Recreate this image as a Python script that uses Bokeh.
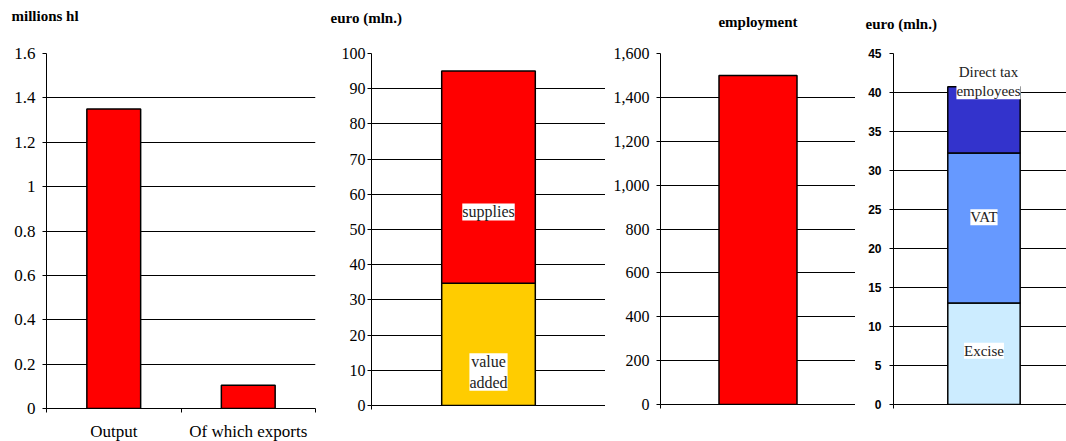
from bokeh.plotting import figure
from bokeh.models import Range1d, FixedTicker, NumeralTickFormatter, Label, Title
from bokeh.layouts import row
from bokeh.embed import file_html
from bokeh.resources import INLINE

# ---------------- data ----------------
prod_categories = ["Output", "Of which exports"]
prod_values = [1.35, 0.105]            # millions hl
prod_ticks = [0, 0.2, 0.4, 0.6, 0.8, 1.0, 1.2, 1.4, 1.6]

value_segments = ["value added", "supplies"]
value_values = [34.7, 60.3]            # euro (mln.)
value_ticks = [0, 10, 20, 30, 40, 50, 60, 70, 80, 90, 100]

employment_values = [1500]
employment_ticks = [0, 200, 400, 600, 800, 1000, 1200, 1400, 1600]

tax_segments = ["Excise", "VAT", "Direct tax\nemployees"]
tax_values = [13.0, 19.25, 8.5]        # euro (mln.)
tax_ticks = [0, 5, 10, 15, 20, 25, 30, 35, 40, 45]

SERIF = "Liberation Serif"


def make_fig(fw, fh, left, right, top, bottom, yr, xr, ticks, tick_font, tick_size,
             title_text, title_align, title_offset, title_standoff, title_lh=1.2,
             tick_style="normal", standoff=6):
    p = figure(frame_width=fw, frame_height=fh, x_range=xr, y_range=yr,
               output_backend="svg", toolbar_location=None,
               min_border_left=left, min_border_right=right,
               min_border_top=top, min_border_bottom=bottom)
    # second (blank) line lifts the visible title line higher above the frame
    p.title = Title(text=title_text + "\n ", align=title_align, offset=title_offset,
                    standoff=title_standoff, vertical_align="top",
                    text_font=SERIF, text_font_size="15px", text_line_height=title_lh,
                    text_font_style="bold", text_color="black")
    p.outline_line_color = None
    p.xgrid.visible = False
    p.ygrid.grid_line_color = "black"
    p.ygrid.grid_line_width = 1
    p.ygrid.ticker = FixedTicker(ticks=ticks)
    ya = p.yaxis[0]
    ya.ticker = FixedTicker(ticks=ticks)
    ya.axis_line_color = "black"
    ya.axis_line_width = 1
    ya.major_tick_in = 0
    ya.major_tick_out = 4
    ya.minor_tick_line_color = None
    ya.major_label_text_font = tick_font
    ya.major_label_text_font_size = tick_size
    ya.major_label_text_font_style = tick_style
    ya.major_label_text_color = "black"
    ya.major_label_standoff = standoff
    xa = p.xaxis[0]
    xa.axis_line_color = "black"
    xa.major_tick_line_color = None
    xa.minor_tick_line_color = "black"
    xa.minor_tick_in = 0
    xa.minor_tick_out = 4
    return p


def seg_label(p, x, y, text, size):
    p.add_layout(Label(x=x, y=y, text=text, text_font=SERIF, text_font_size=size,
                       text_align="center", text_baseline="middle", text_color="#222222",
                       background_fill_color="white"))


TOP = 53

# ---------------- panel 1: production ----------------
n1 = len(prod_categories)
p1 = make_fig(269, 355, 46, 5, TOP, 33, Range1d(0, 1.6), Range1d(0, n1),
              prod_ticks, SERIF, "17px", "millions hl", "left", -35, 12, 1.35, standoff=7)
p1.yaxis[0].formatter = NumeralTickFormatter(format="0.[0]")
xs1 = [i + 0.5 for i in range(n1)]
p1.vbar(x=xs1, top=prod_values, width=0.4, fill_color="#FF0000",
        line_color="black", line_width=1.5)
xa1 = p1.xaxis[0]
xa1.ticker = FixedTicker(ticks=xs1, minor_ticks=list(range(n1 + 1)))
xa1.major_label_overrides = {x: c for x, c in zip(xs1, prod_categories)}
xa1.major_label_standoff = 7
xa1.major_label_text_font = SERIF
xa1.major_label_text_font_size = "17px"
xa1.major_label_text_color = "black"

# ---------------- panel 2: value ----------------
p2 = make_fig(234, 352, 51, 0, TOP, 36, Range1d(0, 100), Range1d(0, 1),
              value_ticks, SERIF, "16px", "euro (mln.)", "left", -41, 8, 1.35, standoff=2)
p2.xaxis[0].ticker = FixedTicker(ticks=[], minor_ticks=[0, 1])
bottoms = [sum(value_values[:i]) for i in range(len(value_values))]
tops = [b + v for b, v in zip(bottoms, value_values)]
p2.vbar(x=[0.5] * len(value_values), bottom=bottoms, top=tops, width=0.4,
        fill_color=["#FFCC00", "#FF0000"], line_color="black", line_width=1.5)
seg_label(p2, 0.5, 9.5, value_segments[0].replace(" ", "\n"), "16px")
seg_label(p2, 0.5, 55, value_segments[1], "16px")

# ---------------- panel 3: employment ----------------
p3 = make_fig(195, 351, 55, 0, TOP, 37, Range1d(0, 1600), Range1d(0, 1),
              employment_ticks, SERIF, "16px", "employment", "center", 0, 6, standoff=7)
p3.xaxis[0].ticker = FixedTicker(ticks=[], minor_ticks=[0, 1])
p3.yaxis[0].formatter = NumeralTickFormatter(format="0,0")
p3.vbar(x=[0.5], top=employment_values, width=0.4, fill_color="#FF0000",
        line_color="black", line_width=1.5)

# ---------------- panel 4: taxes ----------------
p4 = make_fig(173, 351, 38, 0, TOP, 37, Range1d(0, 45), Range1d(0, 0.956),
              tax_ticks, "Liberation Sans", "12px", "euro (mln.)", "left", -28, 2,
              tick_style="bold", standoff=8)
p4.xaxis[0].ticker = FixedTicker(ticks=[], minor_ticks=[0])
tb = [sum(tax_values[:i]) for i in range(len(tax_values))]
tt = [b + v for b, v in zip(tb, tax_values)]
p4.vbar(x=[0.5] * len(tax_values), bottom=tb, top=tt, width=0.4,
        fill_color=["#CCECFF", "#6699FF", "#3333CC"], line_color="black", line_width=1.5)
seg_label(p4, 0.5, 6.9, tax_segments[0], "15px")
seg_label(p4, 0.5, 24, tax_segments[1], "15px")
seg_label(p4, 0.525, 41.4, tax_segments[2], "15px")

layout = row(p1, p2, p3, p4)
open("out.html", "w").write(file_html(layout, INLINE))
